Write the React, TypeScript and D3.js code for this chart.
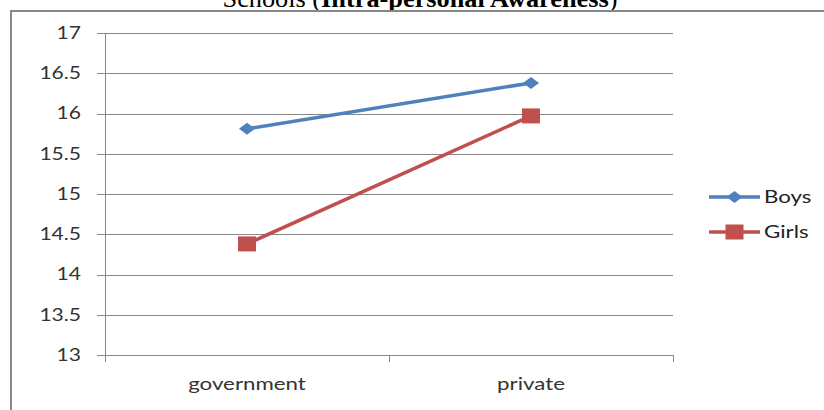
import React from "react";
import * as d3 from "d3";

const categories = ["government", "private"];
const boys = [15.81, 16.38];
const girls = [14.38, 15.97];
const yTicks = [13, 13.5, 14, 14.5, 15, 15.5, 16, 16.5, 17];
const seriesNames = ["Boys", "Girls"];

const W = 824;
const H = 410;
const BLUE = "#4F81BD";
const RED = "#C0504D";
const GRID = "#878787";
const TEXT = "#333333";
const FONT = "Lato, 'Open Sans', sans-serif";
const SX = 1.24;

function SText(props: {
  x: number;
  y: number;
  anchor?: "start" | "middle" | "end";
  size: number;
  dy?: string;
  fill?: string;
  children: React.ReactNode;
}) {
  return (
    <text
      transform={`translate(${props.x},${props.y}) scale(${SX},1)`}
      x={0}
      y={0}
      dy={props.dy}
      textAnchor={props.anchor || "start"}
      fontFamily={FONT}
      fontSize={props.size}
      fill={props.fill || TEXT}
    >
      {props.children}
    </text>
  );
}

export default function App() {
  const x = d3.scalePoint<string>().domain(categories).range([105, 673]).padding(0.5);
  const y = d3.scaleLinear().domain([13, 17]).range([355, 33]);
  const line = d3
    .line<number>()
    .x((_, i) => x(categories[i]) as number)
    .y((d) => y(d));

  const xBand = d3.scaleLinear().domain([0, categories.length]).range([105, 673]);
  const xTickVals = d3.range(categories.length + 1);

  const diamond = (cx: number, cy: number) =>
    `M${cx - 8},${cy} L${cx},${cy - 6} L${cx + 8},${cy} L${cx},${cy + 6} Z`;

  const legendY = d3.scalePoint<string>().domain(seriesNames).range([197, 232]);
  const series = [
    { name: "Boys", values: boys, color: BLUE, marker: "diamond" },
    { name: "Girls", values: girls, color: RED, marker: "square" },
  ];

  const marker = (kind: string, cx: number, cy: number, color: string) =>
    kind === "diamond" ? (
      <path d={diamond(cx, cy)} fill={color} />
    ) : (
      <rect x={cx - 9} y={cy - 7.5} width={18} height={15} fill={color} />
    );

  return (
    <svg
      width={W}
      height={H}
      style={{ position: "absolute", left: 0, top: 0, background: "#fff" }}
    >
      <rect x={0} y={0} width={W} height={H} fill="#fff" />
      <text
        x={420}
        y={7}
        textAnchor="middle"
        fontFamily="'Liberation Serif', 'Times New Roman', serif"
        fontSize={25}
        textLength={395}
        lengthAdjust="spacingAndGlyphs"
        fill="#000"
      >
        Schools (<tspan fontWeight="bold">Intra-personal Awareness</tspan>)
      </text>
      {/* frame */}
      <path d={`M11,${H + 5} L11,11 L${W + 5},11`} fill="none" stroke={GRID} strokeWidth={2} />

      {/* gridlines */}
      {yTicks.map((t) => (
        <g key={t}>
          <line x1={97} x2={673} y1={Math.round(y(t)) + 0.5} y2={Math.round(y(t)) + 0.5} stroke={GRID} strokeWidth={1} />
          <SText x={81} y={y(t)} dy="0.35em" anchor="end" size={17}>
            {t}
          </SText>
        </g>
      ))}
      {/* y axis */}
      <line x1={105.5} x2={105.5} y1={33} y2={355} stroke={GRID} strokeWidth={1} />
      {/* x ticks */}
      {xTickVals.map((v) => (
        <line
          key={v}
          x1={Math.round(xBand(v)) + 0.5}
          x2={Math.round(xBand(v)) + 0.5}
          y1={355}
          y2={362}
          stroke={GRID}
          strokeWidth={1}
        />
      ))}
      {categories.map((c) => (
        <SText key={c} x={x(c) as number} y={390} anchor="middle" size={18}>
          {c}
        </SText>
      ))}

      {/* series */}
      {series.map((s) => (
        <g key={s.name}>
          <path d={line(s.values) as string} fill="none" stroke={s.color} strokeWidth={3.5} />
          {s.values.map((v, i) => (
            <g key={i}>{marker(s.marker, x(categories[i]) as number, y(v), s.color)}</g>
          ))}
        </g>
      ))}

      {/* legend */}
      {series.map((s) => {
        const ly = legendY(s.name) as number;
        return (
          <g key={s.name}>
            <line x1={709} x2={760} y1={ly} y2={ly} stroke={s.color} strokeWidth={3.5} />
            {marker(s.marker, 734.5, ly, s.color)}
            <SText x={764} y={ly} dy="0.35em" size={18} fill="#222">
              {s.name}
            </SText>
          </g>
        );
      })}
    </svg>
  );
}
